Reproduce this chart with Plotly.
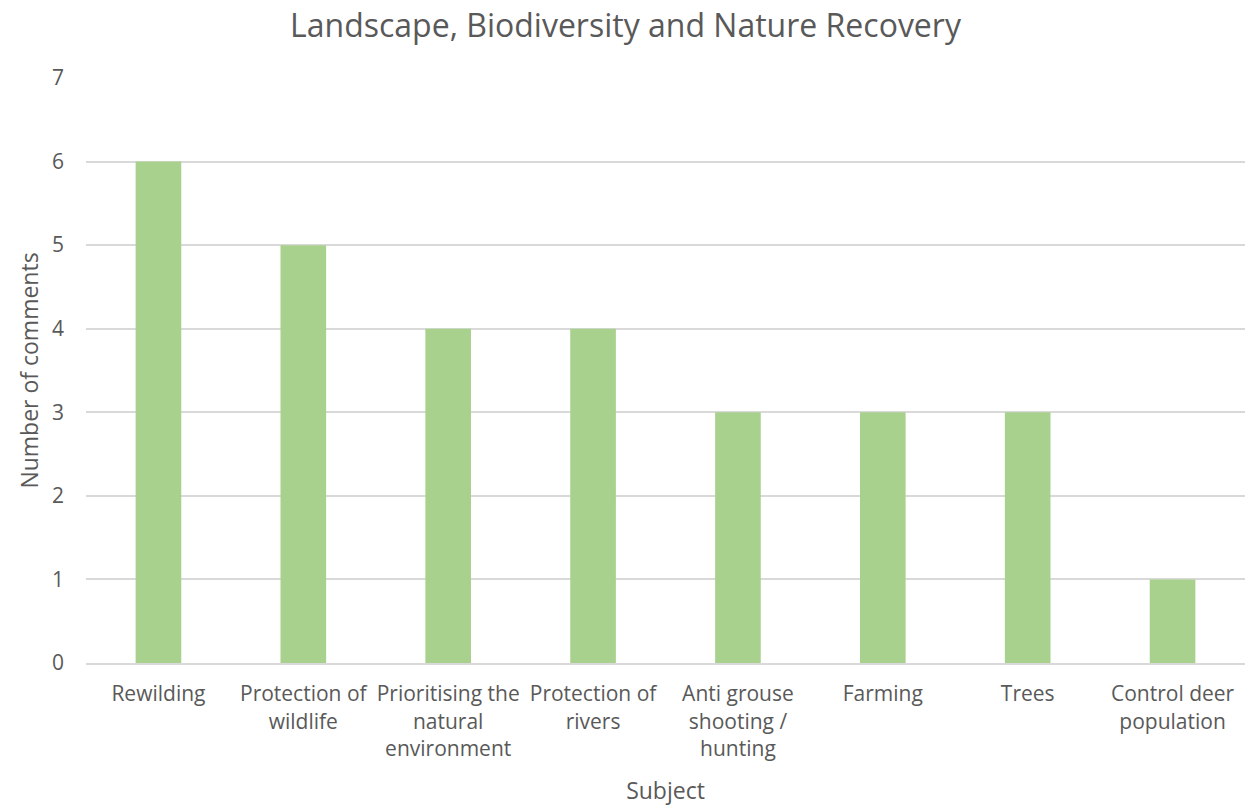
import plotly.graph_objects as go

categories = ["Rewilding", "Protection of<br>wildlife", "Prioritising the<br>natural<br>environment",
              "Protection of<br>rivers", "Anti grouse<br>shooting /<br>hunting", "Farming", "Trees",
              "Control deer<br>population"]
values = [6, 5, 4, 4, 3, 3, 3, 1]
y_ticks = [0, 1, 2, 3, 4, 5, 6, 7]

FONT = "Open Sans"
GREY = "#595959"

fig = go.Figure(go.Bar(x=categories, y=values, marker=dict(color="#A9D18E", line=dict(width=0))))

fig.update_layout(
    width=1251, height=809,
    paper_bgcolor="white", plot_bgcolor="white",
    margin=dict(l=86, r=6, t=78, b=146, autoexpand=False),
    bargap=0.685,
    showlegend=False,
    font=dict(family=FONT, color=GREY, size=21),
    title=dict(text="Landscape, Biodiversity and Nature Recovery", x=0.5, xanchor="center",
               y=1 - 26 / 809, yanchor="middle", yref="container",
               font=dict(family=FONT, size=32, color=GREY)),
)
fig.update_xaxes(
    showgrid=False, showline=True, linecolor="#D9D9D9", linewidth=2,
    ticks="", tickfont=dict(size=21, color=GREY), automargin=False,
    ticklabelstandoff=11,
    title=dict(text="Subject", font=dict(size=23, color=GREY), standoff=22),
)
fig.update_yaxes(
    range=[0, 7], tickvals=y_ticks, showgrid=True, gridcolor="#D9D9D9", gridwidth=2,
    zeroline=False, showline=False, ticks="", tickfont=dict(size=21, color=GREY),
    ticklabelstandoff=21, automargin=False,
    title=dict(text="Number of comments", font=dict(size=23, color=GREY), standoff=6),
)

fig.write_html("out.html", config={"displayModeBar": False},
               post_script="document.body.style.margin='0';")
